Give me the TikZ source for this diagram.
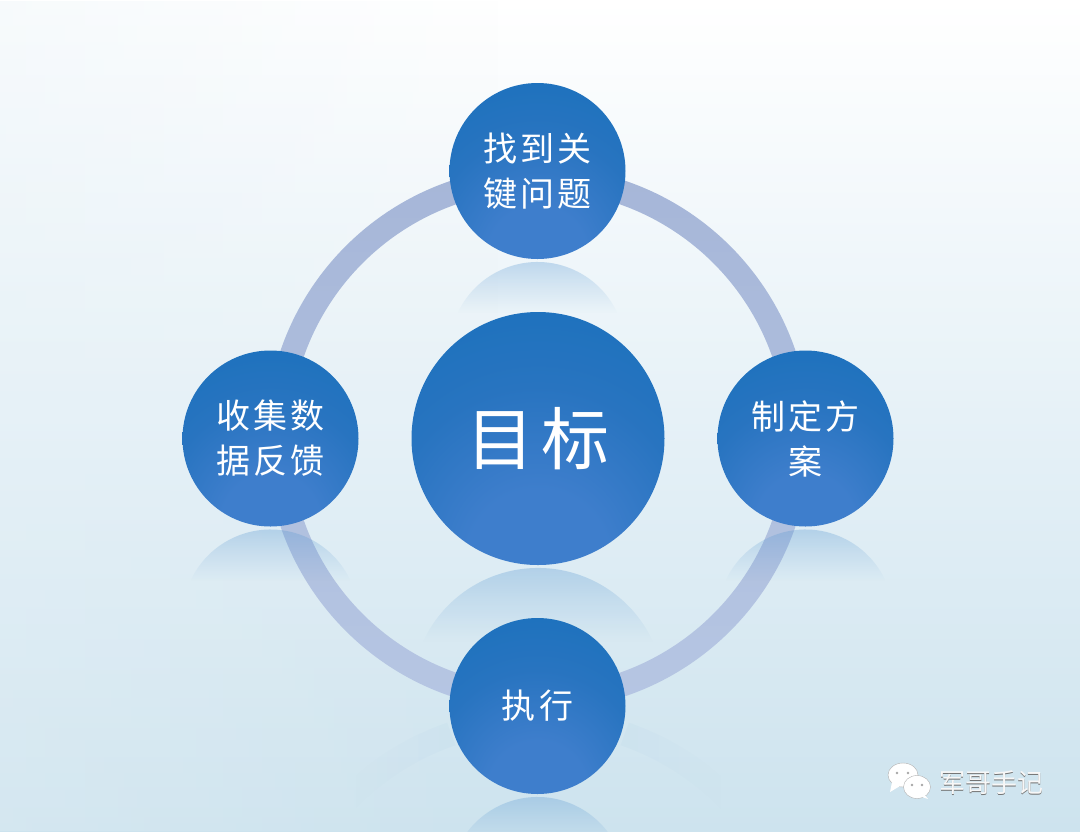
\documentclass[tikz,border=0pt]{standalone}
\usepackage{fontspec}
\usetikzlibrary{calc,fadings,shapes.geometric,backgrounds}

\newfontfamily\cjk[LetterSpace=10]{Noto Sans CJK SC}
\newfontfamily\cjkplain{Noto Sans CJK SC}

% Colours
\definecolor{ballDark}{HTML}{1570BB}
\definecolor{ballMid}{HTML}{2874C0}
\definecolor{ballLight}{HTML}{3E7ECC}
\definecolor{ringTop}{HTML}{A6B6D8}
\definecolor{ringBottom}{HTML}{B6C6E3}
\definecolor{bgMid}{HTML}{E6F1F7}
\definecolor{bgBottom}{HTML}{CDE3EE}
\definecolor{mirrorBlue}{HTML}{5C9AD2}

\pgfdeclareradialshading{ballshade}{\pgfpoint{0bp}{-28bp}}{%
    color(0bp)=(ballLight);
    color(14bp)=(ballLight);
    color(30bp)=(ballMid);
    color(50bp)=(ballDark!85!ballMid);
    color(75bp)=(ballDark);
    color(100bp)=(ballDark)}

% Fadings
\pgfdeclareverticalshading{mirrorshade}{100bp}{%
    color(0bp)=(pgftransparent!100);
    color(28bp)=(pgftransparent!100);
    color(50bp)=(pgftransparent!82);
    color(65bp)=(pgftransparent!68);
    color(75bp)=(pgftransparent!60);
    color(100bp)=(pgftransparent!60)}
\pgfdeclarefading{mirrorfade}{\pgfuseshading{mirrorshade}}
\pgfdeclarehorizontalshading{bandshadeL}{100bp}{%
    color(0bp)=(pgftransparent!100);
    color(32bp)=(pgftransparent!100);
    color(75bp)=(pgftransparent!96);
    color(100bp)=(pgftransparent!96)}
\pgfdeclarefading{ringfadeL}{\pgfuseshading{bandshadeL}}
\pgfdeclarehorizontalshading{bandshadeR}{100bp}{%
    color(0bp)=(pgftransparent!96);
    color(25bp)=(pgftransparent!96);
    color(68bp)=(pgftransparent!100);
    color(100bp)=(pgftransparent!100)}
\pgfdeclarefading{ringfadeR}{\pgfuseshading{bandshadeR}}
\tikzfading[name=leftfade, left color=transparent!70, right color=transparent!100]

\tikzset{
    ball/.style={circle, shading=ballshade, inner sep=0pt, minimum size=176pt,
        text=white, align=center},
    stepball/.style={ball, font=\cjk\fontsize{34}{45}\selectfont},
    goalball/.style={ball, minimum size=253pt, font=\cjk\fontsize{68}{70}\selectfont},
    mirror/.style={fill=mirrorBlue, path fading=mirrorfade},
    bubble/.style={ellipse, fill=white, draw=black!30, line width=0.4pt, inner sep=0pt},
    watermark/.style={font=\cjkplain\fontsize{26}{26}\selectfont},
}

\begin{document}
\begin{tikzpicture}[x=1pt,y=1pt]
    \useasboundingbox (0,0) rectangle (1080,-831);
    \clip (0,0) rectangle (1080,-831);

    % Nodes
    \node[goalball] (goal) at (538,-438.5) {目标};
    \node[stepball] (issue) at (537.5,-171) {找到关\\键问题};
    \node[stepball] (plan) at (805.5,-438.5) {制定方\\案};
    \node[stepball] (act) at (537.5,-706) {执行};
    \node[stepball] (data) at (270.5,-438.5) {收集数\\据反馈};

    \begin{scope}[on background layer]
        % Background
        \fill[top color=white, bottom color=bgBottom, middle color=bgMid] (0,0) rectangle (1080,-831);
        \fill[bgMid, path fading=leftfade] (0,0) rectangle (500,-831);

        % Ring
        \shade[even odd rule, top color=ringTop, bottom color=ringBottom]
            (goal) circle (272) (goal) circle (248);

        % Reflections
        \fill[fill=mirrorBlue, path fading=ringfadeL] ($(goal)+(0,-548)+(137:279)$) arc[start angle=137,end angle=109,radius=279]
            -- ++(-70:24) arc[start angle=109,end angle=137,radius=255] -- cycle;
        \fill[fill=mirrorBlue, path fading=ringfadeR] ($(goal)+(0,-548)+(43:279)$) arc[start angle=43,end angle=71,radius=279]
            -- ++(-110:24) arc[start angle=71,end angle=43,radius=255] -- cycle;
        \foreach \nd/\r in {issue/88, plan/88, act/88, data/88, goal/126.5}{
            \fill[mirror] ($(\nd)+(0,-2*\r-3)+(158:\r)$)
                arc[start angle=158,end angle=22,radius=\r] -- cycle;
        }
    \end{scope}

    % Watermark
    \node[bubble, minimum width=30pt, minimum height=24pt] (wechatA) at (903,-775) {};
    \fill[white] (892,-782) -- (890,-792) -- (900,-786) -- cycle;
    \node[bubble, minimum width=27pt, minimum height=23pt] (wechatB) at (917,-787) {};
    \fill[white] (924,-794) -- (928,-799) -- (919,-796) -- cycle;
    \foreach \x/\y in {897/773, 908/773, 912/785, 922/785}{
        \fill[black!35] (\x,-\y) circle (1.3);
    }
    \node[watermark, text=black!55] (markshadow) at (991.7,-783.7) {军哥手记};
    \node[watermark, text=white!97!black] (mark) at (991,-783) {军哥手记};
\end{tikzpicture}
\end{document}
